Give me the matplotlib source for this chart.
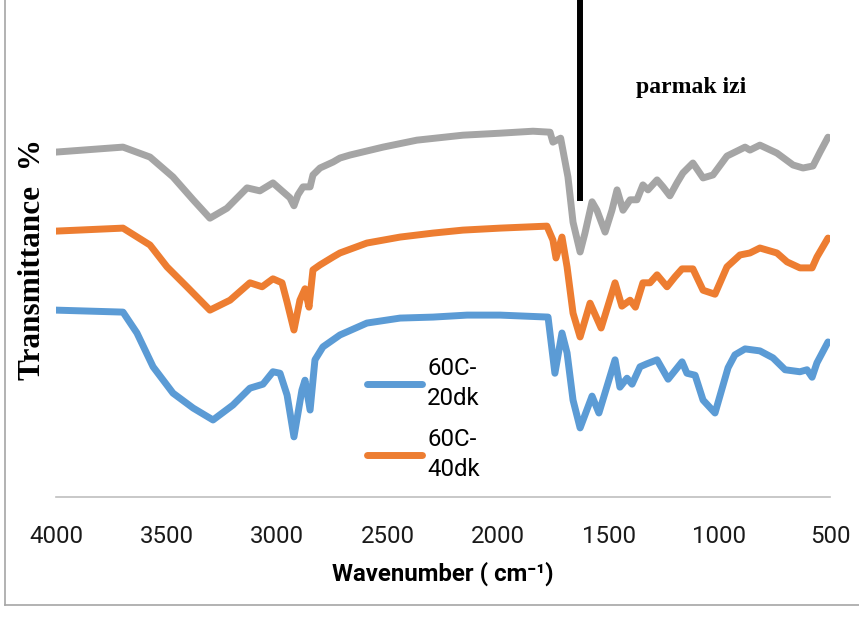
import numpy as np
import matplotlib
matplotlib.use("Agg")
import matplotlib.pyplot as plt
from matplotlib.lines import Line2D

# spectra (wavenumber, transmittance in arbitrary % units)
gray_w = [4000, 3697, 3575, 3471, 3380, 3304, 3227, 3136, 3078, 3019, 2973, 2942, 2924, 2906,
          2883, 2851, 2838, 2806, 2747, 2716, 2671, 2521, 2368, 2160, 1992, 1843, 1766, 1753,
          1718, 1685, 1662, 1630, 1608, 1576, 1554, 1517, 1486, 1463, 1436, 1404, 1373, 1346,
          1323, 1282, 1255, 1224, 1192, 1165, 1120, 1074, 1029, 966, 884, 862, 817, 740, 667,
          622, 577, 545, 509]
gray_t = [69.4, 70.4, 68.4, 64.4, 59.8, 56.1, 58.1, 62.2, 61.6, 63.2, 61.4, 60.2, 58.6, 60.8,
          62.4, 62.4, 64.8, 66.2, 67.4, 68.2, 68.8, 70.4, 71.8, 72.8, 73.2, 73.6, 73.4, 71.4,
          72.2, 64.4, 55.3, 49.3, 53.1, 59.4, 57.7, 53.3, 57.7, 61.8, 57.7, 59.8, 59.8, 62.8,
          61.8, 63.8, 62.4, 60.6, 63.2, 65.2, 67.2, 64.2, 64.8, 68.6, 70.4, 69.8, 70.8, 69.2,
          66.8, 66.2, 66.6, 69.4, 72.4]

orange_w = [4000, 3697, 3575, 3498, 3408, 3304, 3213, 3123, 3068, 3019, 2978, 2955, 2924, 2897,
            2874, 2856, 2838, 2806, 2747, 2716, 2594, 2444, 2295, 2160, 1992, 1780, 1753, 1739,
            1712, 1689, 1662, 1630, 1585, 1535, 1472, 1441, 1404, 1380, 1346, 1314, 1282, 1237,
            1201, 1169, 1120, 1074, 1020, 966, 907, 862, 817, 740, 694, 636, 581, 559, 509]
orange_t = [53.5, 54.1, 50.7, 46.3, 42.3, 37.6, 39.6, 43.1, 42.3, 43.9, 43.1, 39.2, 33.6, 39.6,
            41.9, 38.2, 45.7, 46.7, 48.3, 49.1, 51.1, 52.3, 53.1, 53.7, 54.1, 54.5, 51.7, 48.1,
            52.3, 46.3, 37.0, 32.2, 39.0, 34.0, 43.1, 38.4, 39.6, 38.2, 43.1, 43.1, 44.7, 42.3,
            44.3, 45.9, 45.9, 41.6, 40.8, 46.3, 48.7, 49.1, 50.1, 49.1, 47.3, 46.1, 46.1, 48.3,
            52.1]

blue_w = [4000, 3697, 3634, 3561, 3471, 3380, 3290, 3200, 3123, 3064, 3019, 2987, 2955, 2924,
          2888, 2874, 2851, 2829, 2793, 2716, 2594, 2444, 2295, 2141, 1992, 1775, 1744, 1712,
          1689, 1662, 1630, 1576, 1545, 1472, 1450, 1418, 1395, 1359, 1328, 1282, 1232, 1169,
          1147, 1110, 1074, 1020, 961, 930, 884, 817, 758, 703, 636, 604, 581, 559, 509]
blue_t = [37.6, 37.2, 33.0, 26.2, 20.9, 17.9, 15.5, 18.5, 21.9, 22.7, 25.2, 24.9, 20.5, 12.1,
          21.5, 23.5, 17.5, 27.6, 30.2, 32.6, 35.0, 36.0, 36.2, 36.6, 36.6, 36.2, 24.9, 33.0,
          29.0, 19.5, 13.9, 20.3, 16.9, 27.6, 22.1, 23.9, 22.7, 26.2, 26.8, 27.6, 23.7, 27.2,
          24.9, 24.5, 19.5, 16.9, 26.0, 28.6, 29.8, 29.4, 28.0, 25.6, 25.2, 25.6, 24.1, 27.0,
          31.2]

fingerprint_x = 1630
fingerprint_top = 59.6
x_ticks = [4000, 3500, 3000, 2500, 2000, 1500, 1000, 500]

fig = plt.figure(figsize=(8.59, 6.18), dpi=100)
ax = fig.add_axes([56 / 859, 121 / 618, 774 / 859, 497 / 618])

ax.plot(blue_w, blue_t, color="#5B9BD5", lw=5, solid_joinstyle="round",
        solid_capstyle="round", label="60C-\n20dk")
ax.plot(orange_w, orange_t, color="#ED7D31", lw=5, solid_joinstyle="round",
        solid_capstyle="round", label="60C-\n40dk")
ax.plot(gray_w, gray_t, color="#A5A5A5", lw=5, solid_joinstyle="round",
        solid_capstyle="round")

ax.vlines(fingerprint_x, fingerprint_top, 100, color="black", lw=4.3)
ax.text(1128, 82.3, "parmak izi", family="Liberation Serif", weight="bold",
        fontsize=17, ha="center", va="center")

ax.set_xlim(4000, 500)
ax.set_ylim(0, 100)
ax.set_xticks(x_ticks)
ax.set_xticklabels([str(t) for t in x_ticks], family="Roboto", fontsize=17.3,
                   color="#1a1a1a")
ax.tick_params(axis="x", length=0, pad=20)
ax.set_yticks([])
for s in ["top", "right", "left"]:
    ax.spines[s].set_visible(False)
ax.spines["bottom"].set_color("#BFBFBF")
ax.spines["bottom"].set_linewidth(1.2)

ax.set_xlabel("Wavenumber ( cm\u207b\u00b9)", family=["Roboto", "DejaVu Sans"],
              weight="bold", fontsize=17.3, labelpad=10)
fig.text(33 / 859, 1 - 260 / 618, "Transmittance  %", family="Liberation Serif",
         weight="bold", fontsize=22.5, rotation=90, ha="center", va="center")

leg = ax.legend(loc="upper left", bbox_to_anchor=(367 / 859, 1 - 357 / 618),
                bbox_transform=fig.transFigure, frameon=False, borderpad=0,
                borderaxespad=0, handlelength=2.3, handletextpad=0.2,
                labelspacing=0.75, prop={"family": "Roboto", "size": 17.3})
for t in leg.get_texts():
    t.set_linespacing(1.4)

# outer frame (left and bottom edges visible in the original)
fig.add_artist(Line2D([5 / 859, 5 / 859], [13 / 618, 1], transform=fig.transFigure,
                      color="#A6A6A6", lw=1.2))
fig.add_artist(Line2D([5 / 859, 1], [13 / 618, 13 / 618], transform=fig.transFigure,
                      color="#A6A6A6", lw=1.2))

plt.savefig("out.png", dpi=100)
